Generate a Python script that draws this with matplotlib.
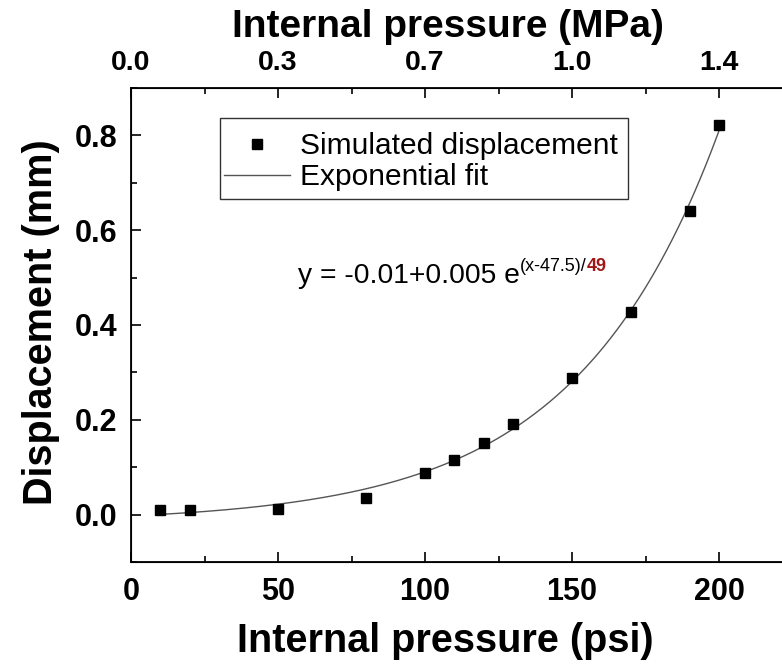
import numpy as np
import matplotlib
matplotlib.use("Agg")
import matplotlib.pyplot as plt
from matplotlib.patches import Rectangle
from matplotlib.ticker import MultipleLocator, FixedLocator

# simulated displacement vs internal pressure
pressure_psi = [10, 20, 50, 80, 100, 110, 120, 130, 150, 170, 190, 200]
displacement_mm = [0.010, 0.010, 0.012, 0.036, 0.087, 0.115, 0.151, 0.192,
                   0.289, 0.427, 0.640, 0.821]

# top axis ticks (psi positions, shown in MPa)
mpa_ticks_psi = [0, 50, 100, 150, 200]
PSI_TO_MPA = 0.00689476

# exponential growth fit y = y0 + A*exp((x - x0)/t), x0 fixed
x0 = 47.5

plt.rcParams['font.family'] = ['Liberation Sans', 'DejaVu Sans']

x = np.array(pressure_psi, dtype=float)
y = np.array(displacement_mm, dtype=float)
best = None
for t in np.linspace(20, 100, 1601):
    M = np.column_stack([np.ones_like(x), np.exp((x - x0) / t)])
    coef, res, _, _ = np.linalg.lstsq(M, y, rcond=None)
    err = np.sum((M @ coef - y) ** 2)
    if best is None or err < best[0]:
        best = (err, t, coef)
_, t_fit, (y0_fit, a_fit) = best
xf = np.linspace(min(pressure_psi), max(pressure_psi), 300)
yf = y0_fit + a_fit * np.exp((xf - x0) / t_fit)

W, H = 782, 665
fig = plt.figure(figsize=(W / 100, H / 100), dpi=100)
ax = fig.add_axes([131 / W, 1 - 562 / H, 661.5 / W, (562 - 88) / H])

ax.plot(pressure_psi, displacement_mm, 's', color='black', markersize=7.5,
        label='Simulated displacement', zorder=3)
ax.plot(xf, yf, '-', color='#555555', linewidth=1.0, label='Exponential fit')

ax.set_xlim(0, 225)
ax.set_ylim(-0.1, 0.9)
ax.xaxis.set_major_locator(MultipleLocator(50))
ax.xaxis.set_minor_locator(MultipleLocator(25))
ax.yaxis.set_major_locator(MultipleLocator(0.2))
ax.yaxis.set_minor_locator(MultipleLocator(0.1))
ax.yaxis.set_major_formatter(plt.FuncFormatter(lambda v, p: '%.1f' % v))

for s in ax.spines.values():
    s.set_linewidth(1.3)
ax.tick_params(which='both', direction='in', width=1.2, top=False, right=False)
ax.tick_params(which='major', length=7)
ax.tick_params(which='minor', length=4)
ax.tick_params(axis='x', labelsize=22, pad=11)
ax.tick_params(axis='y', labelsize=22, pad=10)
for lab in ax.get_xticklabels() + ax.get_yticklabels():
    lab.set_fontweight('bold')

ax.set_xlabel('Internal pressure (psi)', fontsize=28.5, fontweight='bold')
ax.set_ylabel('Displacement (mm)', fontsize=28.5, fontweight='bold')
ax.xaxis.set_label_coords((445 - 131) / 661.5, -(652 - 562) / 474, transform=ax.transAxes)
ax.yaxis.set_label_coords(-(131 - 22) / 661.5, (562 - 322) / 474, transform=ax.transAxes)
ax.xaxis.label.set_va('baseline')
ax.yaxis.label.set_va('top')

# top axis in MPa
ax2 = ax.twiny()
ax2.set_xlim(ax.get_xlim())
ax2.xaxis.set_major_locator(FixedLocator(mpa_ticks_psi))
ax2.xaxis.set_minor_locator(MultipleLocator(25))
ax2.set_xticklabels(['%.1f' % (p * PSI_TO_MPA) for p in mpa_ticks_psi])
ax2.tick_params(which='both', direction='in', width=1.2)
ax2.tick_params(which='major', length=7)
ax2.tick_params(which='minor', length=4)
ax2.tick_params(axis='x', labelsize=20.5, pad=8.5)
for lab in ax2.get_xticklabels():
    lab.set_fontweight('bold')
ax2.set_xlabel('Internal pressure (MPa)', fontsize=28, fontweight='bold')
ax2.xaxis.set_label_coords((448 - 131) / 661.5, 1 + (88 - 37) / 474, transform=ax.transAxes)
ax2.xaxis.label.set_va('baseline')

# legend with a plain rectangular box
leg = ax.legend(loc='upper left', bbox_to_anchor=(224 / W, 1 - 132 / H),
                bbox_transform=fig.transFigure, borderaxespad=0, borderpad=0,
                prop={'size': 21.5}, frameon=False, labelspacing=0.1,
                handlelength=2.2, handletextpad=0.35)
fig.patches.append(Rectangle((220 / W, 1 - 199 / H), (628 - 220) / W, (199 - 118) / H,
                             transform=fig.transFigure, fill=False,
                             edgecolor='#333333', linewidth=1.0))

# fit equation with superscript exponent
t1 = ax.text(298 / W, 1 - 283 / H, 'y = -0.01+0.005 e', transform=fig.transFigure,
             fontsize=20.3, va='baseline', ha='left')
t2 = ax.annotate('(x-47.5)/', xy=(1, 0.55), xycoords=t1, fontsize=13,
                 va='bottom', ha='left')
ax.annotate('49', xy=(1, 0), xycoords=t2, fontsize=13, fontweight='bold',
            color='#a31515', va='bottom', ha='left')

fig.savefig('out.png', dpi=100)
